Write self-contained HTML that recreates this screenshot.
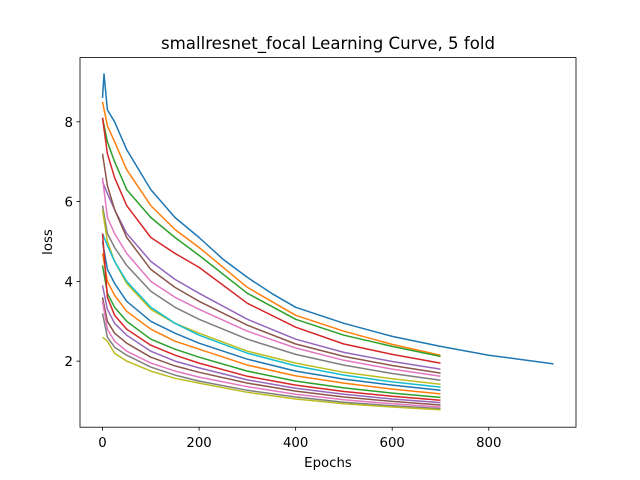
<!DOCTYPE html>
<html><head><meta charset="utf-8"><style>
body{margin:0;background:#fff;}
svg{display:block;font-family:"DejaVu Sans","Liberation Sans",sans-serif;}
</style></head><body>
<svg id="chart" width="640" height="480">
<rect width="640" height="480" fill="#fff"/>
<text x="328" y="49" text-anchor="middle" font-size="16.6">smallresnet_focal Learning Curve, 5 fold</text>
<text x="328" y="467" text-anchor="middle" font-size="13.3">Epochs</text>
<text transform="translate(52,242) rotate(-90)" text-anchor="middle" font-size="13.3">loss</text>
<g id="lines"></g>
<g id="axes"></g>
</svg>
<script>
const xTicks=[0,200,400,600,800];
const yTicks=[2,4,6,8];
const colors=['#1f77b4','#ff7f0e','#2ca02c','#d62728','#9467bd','#8c564b','#e377c2','#7f7f7f','#bcbd22','#17becf'];
const mainX=[0,3,10,25,50,100,150,200,250,300,350,400,500,600,700,800,934];
const mainY=[8.6,9.2,8.3,8.0,7.3,6.3,5.6,5.1,4.55,4.1,3.7,3.35,2.95,2.62,2.37,2.15,1.93];
const foldX=[0,10,25,50,100,150,200,300,400,500,600,700];
const foldY=[
[8.5,7.9,7.5,6.8,5.9,5.3,4.85,3.85,3.15,2.75,2.42,2.15],
[8.1,7.5,7.0,6.3,5.6,5.1,4.65,3.7,3.05,2.65,2.37,2.12],
[8.1,7.2,6.6,5.9,5.1,4.7,4.35,3.45,2.85,2.43,2.17,1.95],
[6.5,6.2,5.8,5.2,4.5,4.05,3.7,3.05,2.55,2.22,1.99,1.8],
[7.2,6.4,5.8,5.1,4.3,3.85,3.5,2.9,2.43,2.12,1.89,1.7],
[6.6,5.6,5.2,4.7,4.0,3.6,3.3,2.75,2.33,2.02,1.8,1.62],
[5.9,5.2,4.85,4.4,3.75,3.35,3.05,2.55,2.17,1.9,1.69,1.52],
[5.8,5.0,4.5,3.95,3.3,2.95,2.7,2.25,1.95,1.72,1.56,1.42],
[5.2,4.9,4.5,4.0,3.35,2.95,2.65,2.2,1.88,1.65,1.48,1.35],
[5.0,4.3,3.95,3.5,3.0,2.7,2.45,2.05,1.75,1.55,1.4,1.27],
[4.7,4.0,3.65,3.25,2.8,2.5,2.3,1.9,1.63,1.45,1.3,1.18],
[4.4,3.7,3.35,3.0,2.55,2.3,2.1,1.75,1.5,1.33,1.2,1.09],
[5.2,3.6,3.15,2.8,2.4,2.15,1.95,1.62,1.4,1.24,1.12,1.02],
[3.9,3.3,2.95,2.65,2.25,2.0,1.83,1.53,1.32,1.17,1.05,0.96],
[3.6,3.0,2.7,2.45,2.1,1.88,1.72,1.45,1.25,1.1,0.99,0.9],
[3.5,2.8,2.5,2.25,1.95,1.75,1.6,1.36,1.17,1.03,0.93,0.85],
[3.2,2.6,2.35,2.15,1.85,1.65,1.5,1.27,1.1,0.97,0.88,0.81],
[2.6,2.5,2.2,2.0,1.75,1.57,1.45,1.22,1.05,0.93,0.85,0.78]
];
const L=80,R=576,T=57.6,B=427.2;
const xMin=-46.7,xMax=980.7,yMin=0.344,yMax=9.61;
function sx(v){return L+(v-xMin)/(xMax-xMin)*(R-L);}
function sy(v){return B-(v-yMin)/(yMax-yMin)*(B-T);}
const NS='http://www.w3.org/2000/svg';
const lg=document.getElementById('lines');
function addLine(xs,ys,c,i){
  const p=document.createElementNS(NS,'polyline');
  p.setAttribute('points',xs.map((x,k)=>sx(x).toFixed(1)+','+sy(ys[k]).toFixed(1)).join(' '));
  p.setAttribute('fill','none');p.setAttribute('stroke',c);p.setAttribute('stroke-width','1.5');
  p.setAttribute('stroke-linejoin','round');
  
  
  lg.appendChild(p);
}
addLine(mainX,mainY,colors[0],0);
foldY.forEach((ys,i)=>addLine(foldX,ys,colors[(i+1)%10],i+1));
const ag=document.getElementById('axes');
const frame=document.createElementNS(NS,'rect');
frame.setAttribute('x',L);frame.setAttribute('y',T);frame.setAttribute('width',R-L);frame.setAttribute('height',B-T);
frame.setAttribute('fill','none');frame.setAttribute('stroke','#000');frame.setAttribute('stroke-width','0.8');


ag.appendChild(frame);
xTicks.forEach(v=>{
  const x=sx(v);
  const l=document.createElementNS(NS,'line');
  l.setAttribute('x1',x);l.setAttribute('x2',x);l.setAttribute('y1',B);l.setAttribute('y2',B+3.5);l.setAttribute('stroke','#000');l.setAttribute('stroke-width','0.8');
  
  
  ag.appendChild(l);
  const t=document.createElementNS(NS,'text');
  t.setAttribute('x',x);t.setAttribute('y',B+20);t.setAttribute('text-anchor','middle');t.setAttribute('font-size','13.3');
  t.textContent=v;
  
  
  ag.appendChild(t);
});
yTicks.forEach(v=>{
  const y=sy(v);
  const l=document.createElementNS(NS,'line');
  l.setAttribute('x1',L-3.5);l.setAttribute('x2',L);l.setAttribute('y1',y);l.setAttribute('y2',y);l.setAttribute('stroke','#000');l.setAttribute('stroke-width','0.8');
  
  
  ag.appendChild(l);
  const t=document.createElementNS(NS,'text');
  t.setAttribute('x',L-7);t.setAttribute('y',y+5);t.setAttribute('text-anchor','end');t.setAttribute('font-size','13.3');
  t.textContent=v;
  
  
  ag.appendChild(t);
});
</script>
</body></html>
